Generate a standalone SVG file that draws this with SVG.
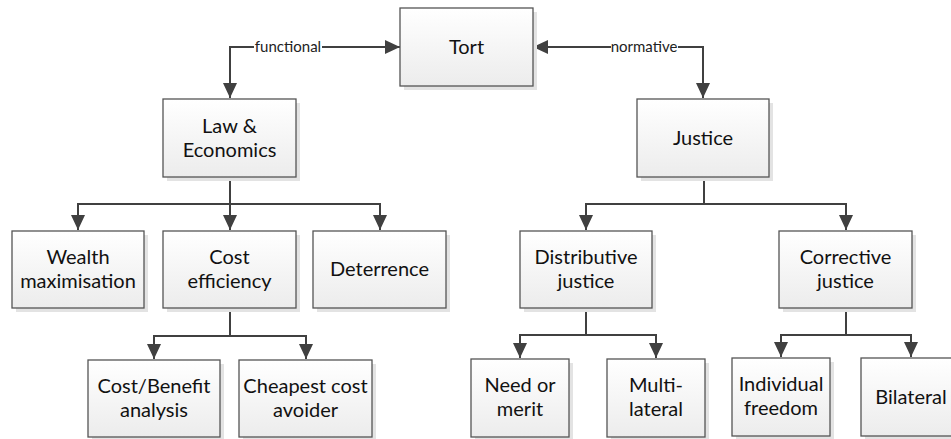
<svg xmlns="http://www.w3.org/2000/svg" width="951" height="439" viewBox="0 0 951 439">
<style>
.box{fill:url(#g);stroke:#555;stroke-width:1.3}
.sh{fill:#e3e3e3}
.t{font-family:Lato,"Liberation Sans",sans-serif;font-size:20px;fill:#111;text-anchor:middle}
.lb{font-family:Lato,"Liberation Sans",sans-serif;font-size:15px;fill:#222;text-anchor:middle}
.c{fill:none;stroke:#404040;stroke-width:2}
</style>
<defs>
<linearGradient id="g" x1="0" y1="0" x2="0" y2="1">
<stop offset="0" stop-color="#ffffff"/>
<stop offset="1" stop-color="#ececec"/>
</linearGradient>
<marker id="a" markerUnits="userSpaceOnUse" markerWidth="15" markerHeight="14" viewBox="0 0 15 14" refX="15" refY="7" orient="auto-start-reverse">
<path d="M0,0 L15,7 L0,14 z" fill="#404040"/>
</marker>
</defs>
<g id="connectors">
<path class="c" d="M400,47 H230 V98" marker-start="url(#a)" marker-end="url(#a)"/>
<rect x="254" y="38" width="68" height="18" fill="#fff"/>
<text class="lb" x="288" y="52">functional</text>
<path class="c" d="M533,47 H703 V98" marker-start="url(#a)" marker-end="url(#a)"/>
<rect x="611" y="38" width="67" height="18" fill="#fff"/>
<text class="lb" x="644" y="52">normative</text>
<path class="c" d="M230,177 V230" marker-end="url(#a)"/>
<path class="c" d="M230,204 H78 V230" marker-end="url(#a)"/>
<path class="c" d="M230,204 H380 V230" marker-end="url(#a)"/>
<path class="c" d="M704,177 V204 H586 V230" marker-end="url(#a)"/>
<path class="c" d="M704,204 H846 V230" marker-end="url(#a)"/>
<path class="c" d="M230,308 V336 H154 V359" marker-end="url(#a)"/>
<path class="c" d="M230,336 H306 V359" marker-end="url(#a)"/>
<path class="c" d="M586,308 V335 H520 V358" marker-end="url(#a)"/>
<path class="c" d="M586,335 H656 V358" marker-end="url(#a)"/>
<path class="c" d="M846,308 V335 H781 V357" marker-end="url(#a)"/>
<path class="c" d="M846,335 H911 V357" marker-end="url(#a)"/>
</g>
<g id="tort"><rect class="sh" x="404" y="12" width="133" height="78"/><rect class="box" x="400" y="8" width="133" height="78"/><text class="t" x="466.5" y="54">Tort</text></g>
<g id="law"><rect class="sh" x="167" y="103" width="133" height="78"/><rect class="box" x="163" y="99" width="133" height="78"/><text class="t" x="229.5" y="132.5">Law &amp;</text><text class="t" x="229.5" y="156.5">Economics</text></g>
<g id="justice"><rect class="sh" x="641" y="103" width="132" height="78"/><rect class="box" x="637" y="99" width="132" height="78"/><text class="t" x="703" y="145">Justice</text></g>
<g id="wealth"><rect class="sh" x="16" y="235" width="132" height="77"/><rect class="box" x="12" y="231" width="132" height="77"/><text class="t" x="78" y="264">Wealth</text><text class="t" x="78" y="288">maximisation</text></g>
<g id="cost"><rect class="sh" x="167" y="235" width="133" height="77"/><rect class="box" x="163" y="231" width="133" height="77"/><text class="t" x="229.5" y="264">Cost</text><text class="t" x="229.5" y="288">efficiency</text></g>
<g id="deterrence"><rect class="sh" x="317" y="235" width="133" height="77"/><rect class="box" x="313" y="231" width="133" height="77"/><text class="t" x="379.5" y="276">Deterrence</text></g>
<g id="distributive"><rect class="sh" x="524" y="235" width="132" height="77"/><rect class="box" x="520" y="231" width="132" height="77"/><text class="t" x="586" y="264">Distributive</text><text class="t" x="586" y="288">justice</text></g>
<g id="corrective"><rect class="sh" x="783" y="235" width="133" height="77"/><rect class="box" x="779" y="231" width="133" height="77"/><text class="t" x="845.5" y="264">Corrective</text><text class="t" x="845.5" y="288">justice</text></g>
<g id="costbenefit"><rect class="sh" x="92" y="364" width="132" height="77"/><rect class="box" x="88" y="360" width="132" height="77"/><text class="t" x="154" y="393">Cost/Benefit</text><text class="t" x="154" y="417">analysis</text></g>
<g id="cheapest"><rect class="sh" x="243" y="364" width="133" height="77"/><rect class="box" x="239" y="360" width="133" height="77"/><text class="t" x="305.5" y="393">Cheapest cost</text><text class="t" x="305.5" y="417">avoider</text></g>
<g id="need"><rect class="sh" x="475" y="363" width="98" height="78"/><rect class="box" x="471" y="359" width="98" height="78"/><text class="t" x="520" y="392">Need or</text><text class="t" x="520" y="416">merit</text></g>
<g id="multi"><rect class="sh" x="611" y="363" width="98" height="78"/><rect class="box" x="607" y="359" width="98" height="78"/><text class="t" x="656" y="392">Multi-</text><text class="t" x="656" y="416">lateral</text></g>
<g id="individual"><rect class="sh" x="736" y="362" width="98" height="78"/><rect class="box" x="732" y="358" width="98" height="78"/><text class="t" x="781" y="391">Individual</text><text class="t" x="781" y="415">freedom</text></g>
<g id="bilateral"><rect class="sh" x="865" y="362" width="100" height="78"/><rect class="box" x="861" y="358" width="100" height="78"/><text class="t" x="911" y="404">Bilateral</text></g>
</svg>
